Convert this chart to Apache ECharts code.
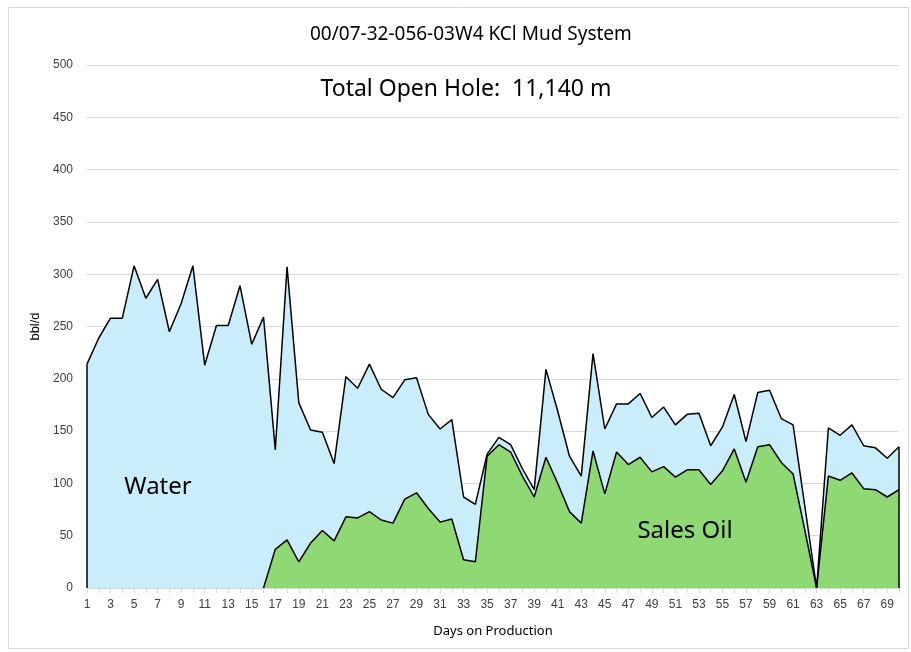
<!DOCTYPE html>
<html>
<head>
<meta charset="utf-8">
<script src="https://cdn.jsdelivr.net/npm/echarts@6/dist/echarts.min.js"></script>
<style>
html,body{margin:0;padding:0;background:#fff;}
#chart{width:911px;height:652px;}
</style>
</head>
<body>
<div id="chart"></div>
<script>
// Data
var days = [];
for (var d = 1; d <= 70; d++) days.push(String(d));

var totalFluid = [214,239,258,258,308,277,295,245,272,308,
                  213,251,251,289,233,259,132,307,177,151,
                  149,119,202,191,214,190,182,199,201,166,
                  152,161,87,80,128,144,137,114,94,209,
                  169,126,107,224,152,176,176,186,163,173,
                  156,166,167,136,154,185,140,187,189,162,
                  156,78,0,153,146,156,136,134,124,135];

var salesOil = [null,null,null,null,null,null,null,null,null,null,
                null,null,null,null,null,0,37,46,25,43,
                55,45,68,67,73,65,62,85,91,76,
                63,66,27,25,126,137,130,107,87,125,
                100,73,62,131,90,130,118,125,111,116,
                106,113,113,99,112,133,101,135,137,120,
                109,55,0,107,103,110,95,94,87,94];

var yTicks = [0,50,100,150,200,250,300,350,400,450,500];

var chart = echarts.init(document.getElementById('chart'), null, {renderer:'canvas'});

var option = {
  animation: false,
  backgroundColor: '#ffffff',
  title: {
    text: '00/07-32-056-03W4 KCl Mud System',
    left: 305,
    top: 20,
    textStyle: {fontFamily: 'Noto Sans', fontSize: 19, fontWeight: 'normal', color: '#000000'}
  },
  grid: {left: 87, right: 12, top: 65, bottom: 64, containLabel: false},
  xAxis: {
    type: 'category',
    data: days,
    boundaryGap: false,
    name: 'Days on Production',
    nameLocation: 'middle',
    nameGap: 37,
    nameTextStyle: {fontFamily: 'Noto Sans', fontSize: 13, color: '#000000'},
    axisLine: {show: true, lineStyle: {color: '#d9d9d9', width: 1}},
    axisTick: {show: true, interval: 0, length: 5, lineStyle: {color: '#d9d9d9'}},
    axisLabel: {interval: 1, fontFamily: 'Liberation Sans', fontSize: 12, color: '#404040', margin: 11},
    splitLine: {show: false}
  },
  yAxis: {
    type: 'value',
    min: yTicks[0],
    max: yTicks[yTicks.length - 1],
    interval: 50,
    name: 'bbl/d',
    nameLocation: 'middle',
    nameGap: 42,
    nameRotate: 90,
    nameTextStyle: {fontFamily: 'Liberation Sans', fontSize: 13, color: '#000000'},
    axisLine: {show: false},
    axisTick: {show: false},
    axisLabel: {fontFamily: 'Liberation Sans', fontSize: 12, color: '#404040', margin: 14},
    splitLine: {show: true, lineStyle: {color: '#d9d9d9', width: 1}}
  },
  graphic: [
    {type: 'rect', shape: {x: 8.5, y: 7.5, width: 900, height: 641}, style: {fill: 'none', stroke: '#d9d9d9', lineWidth: 1}, z: -10, silent: true},
    {type: 'text', x: 466, y: 89, style: {text: 'Total Open Hole:  11,140 m', font: '23px "Noto Sans"', fill: '#000000', textAlign: 'center', textVerticalAlign: 'middle'}, z: 100},
    {type: 'text', x: 158, y: 487, style: {text: 'Water', font: '24px "Noto Sans"', fill: '#000000', textAlign: 'center', textVerticalAlign: 'middle'}, z: 100},
    {type: 'text', x: 685, y: 531, style: {text: 'Sales Oil', font: '24px "Noto Sans"', fill: '#000000', textAlign: 'center', textVerticalAlign: 'middle'}, z: 100}
  ],
  series: [
    {
      name: 'Water',
      type: 'line',
      data: totalFluid,
      showSymbol: false,
      symbol: 'none',
      lineStyle: {color: '#000000', width: 1.5},
      areaStyle: {color: '#caedfb', opacity: 1},
      markLine: {
        silent: true,
        symbol: 'none',
        label: {show: false},
        lineStyle: {color: '#000000', width: 1.5, type: 'solid'},
        data: [
          [{coord: [days[0], 0]}, {coord: [days[0], totalFluid[0]]}],
          [{coord: [days[days.length - 1], 0]}, {coord: [days[days.length - 1], totalFluid[totalFluid.length - 1]]}]
        ]
      }
    },
    {
      name: 'Sales Oil',
      type: 'line',
      data: salesOil,
      showSymbol: false,
      symbol: 'none',
      connectNulls: false,
      lineStyle: {color: '#000000', width: 1.5},
      areaStyle: {color: '#8ed973', opacity: 1}
    }
  ]
};
chart.setOption(option);
</script>
</body>
</html>
